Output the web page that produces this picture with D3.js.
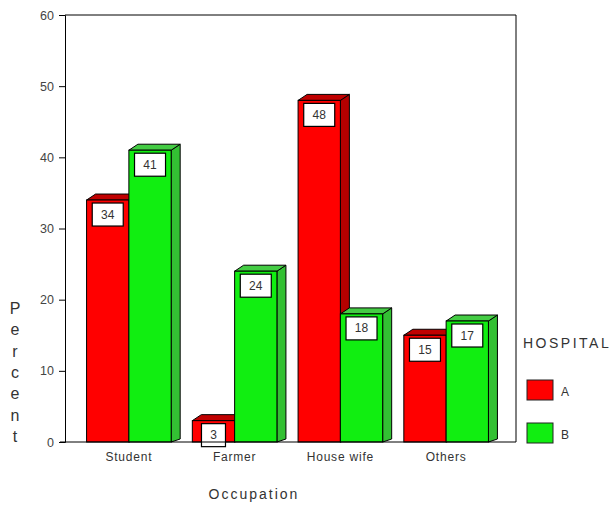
<!DOCTYPE html>
<html>
<head>
<meta charset="utf-8">
<script src="https://cdn.jsdelivr.net/npm/d3@7"></script>
<style>
  html, body { margin: 0; padding: 0; background: #fff; }
  svg { display: block; font-family: Arial, "Liberation Sans", sans-serif; }
</style>
</head>
<body>
<svg id="chart" width="615" height="508"></svg>
<script>
// Occupation by hospital, percent of respondents
const categories = ["Student", "Farmer", "House wife", "Others"];
const seriesNames = ["A", "B"];
const hospitalA = [34, 3, 48, 15];
const hospitalB = [41, 24, 18, 17];
const yTicks = [0, 10, 20, 30, 40, 50, 60];

const svg = d3.select("#chart");
const frame = { left: 65, right: 516, top: 15, bottom: 442 };
const depth = { dx: 9, dy: 6 };

const x = d3.scaleBand().domain(categories).range([76, 499]).paddingInner(0.2).paddingOuter(0.1);
const xs = d3.scaleBand().domain(seriesNames).range([0, x.bandwidth()]);
const y = d3.scaleLinear().domain([0, 60]).range([frame.bottom, frame.top]);

const palette = {
  A: { front: "#ff0000", top: "#c00000", side: "#b40000" },
  B: { front: "#11ee11", top: "#44cc44", side: "#33c033" }
};

const rows = categories.map((c, i) => ({ cat: c, A: hospitalA[i], B: hospitalB[i] }));

// frame
svg.append("line").attr("x1", frame.left).attr("x2", frame.right).attr("y1", frame.top).attr("y2", frame.top)
  .attr("stroke", "#000");
svg.append("line").attr("x1", frame.right).attr("x2", frame.right).attr("y1", frame.top).attr("y2", frame.bottom)
  .attr("stroke", "#000");

// y axis
const yAxis = svg.append("g").attr("transform", `translate(${frame.left},0)`)
  .call(d3.axisLeft(y).tickValues(yTicks).tickSize(6).tickPadding(5));
yAxis.select(".domain").attr("stroke", "#000");
yAxis.selectAll(".tick line").attr("stroke", "#000");
yAxis.selectAll(".tick text").attr("fill", "#444").attr("font-size", 12.5);

// bars (3D style: front, top and side faces)
const bars = [];
rows.forEach(r => seriesNames.forEach(s => bars.push({ cat: r.cat, s, v: r[s] })));

const g = svg.append("g");
bars.forEach(b => {
  const x0 = x(b.cat) + xs(b.s);
  const w = xs.bandwidth();
  const yt = y(b.v);
  const yb = y(0);
  const col = palette[b.s];
  const bar = g.append("g");
  bar.append("path")
    .attr("d", `M${x0 + w},${yt} L${x0 + w + depth.dx},${yt - depth.dy} L${x0 + w + depth.dx},${yb - 3} L${x0 + w},${yb} Z`)
    .attr("fill", col.side).attr("stroke", "#000").attr("stroke-width", 1);
  bar.append("path")
    .attr("d", `M${x0},${yt} L${x0 + depth.dx},${yt - depth.dy} L${x0 + w + depth.dx},${yt - depth.dy} L${x0 + w},${yt} Z`)
    .attr("fill", col.top).attr("stroke", "#000").attr("stroke-width", 1);
  bar.append("rect")
    .attr("x", x0).attr("y", yt).attr("width", w).attr("height", yb - yt)
    .attr("fill", col.front).attr("stroke", "#000").attr("stroke-width", 1);
});

// value labels in white boxes
bars.forEach(b => {
  const cx = x(b.cat) + xs(b.s) + xs.bandwidth() / 2;
  const yt = y(b.v);
  const bw = String(b.v).length > 1 ? 31 : 24;
  const bh = 23;
  const lg = svg.append("g");
  lg.append("rect")
    .attr("x", cx - bw / 2).attr("y", yt + 3).attr("width", bw).attr("height", bh)
    .attr("fill", "#fff").attr("stroke", "#000").attr("stroke-width", 1.2);
  lg.append("text")
    .attr("x", cx).attr("y", yt + 3 + bh / 2 + 4)
    .attr("text-anchor", "middle").attr("font-size", 12).attr("fill", "#333")
    .text(b.v);
});

// x axis baseline and labels
svg.append("line").attr("x1", 60).attr("x2", frame.right).attr("y1", frame.bottom).attr("y2", frame.bottom)
  .attr("stroke", "#000");
svg.append("g").selectAll("text").data(categories).join("text")
  .attr("x", d => x(d) + x.bandwidth() / 2)
  .attr("y", 461)
  .attr("text-anchor", "middle").attr("font-size", 12).attr("fill", "#333")
  .attr("letter-spacing", 0.8)
  .text(d => d);

// axis titles
svg.append("text").attr("x", 254).attr("y", 499).attr("text-anchor", "middle")
  .attr("font-size", 14).attr("fill", "#333").attr("letter-spacing", 2)
  .text("Occupation");
const yTitle = "Percent".split("");
svg.append("g").selectAll("text").data(yTitle).join("text")
  .attr("x", 15).attr("y", (d, i) => 314 + i * 21.3)
  .attr("text-anchor", "middle").attr("font-size", 16).attr("fill", "#333")
  .text(d => d);

// legend
svg.append("text").attr("x", 523).attr("y", 348).attr("font-size", 14).attr("fill", "#333")
  .attr("letter-spacing", 2.5).text("HOSPITAL");
seriesNames.forEach((s, i) => {
  const yy = 380 + i * 43;
  svg.append("rect").attr("x", 527).attr("y", yy).attr("width", 26).attr("height", 20)
    .attr("fill", palette[s].front).attr("stroke", "#222").attr("stroke-width", 1);
  svg.append("text").attr("x", 561).attr("y", yy + 16).attr("font-size", 12).attr("fill", "#333").text(s);
});
</script>
</body>
</html>
